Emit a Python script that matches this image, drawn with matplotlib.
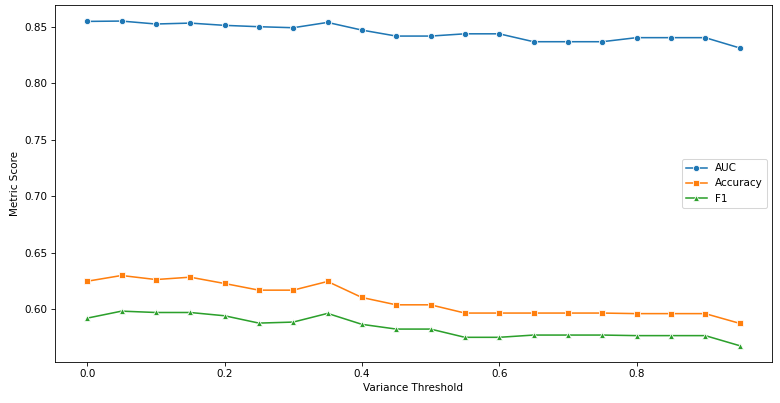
import numpy as np
import pandas as pd
import matplotlib
matplotlib.use("Agg")
import matplotlib.pyplot as plt
import seaborn as sns

# values
thresholds = [0.0, 0.05, 0.1, 0.15, 0.2, 0.25, 0.3, 0.35, 0.4, 0.45,
              0.5, 0.55, 0.6, 0.65, 0.7, 0.75, 0.8, 0.85, 0.9, 0.95]
auc = [0.8550, 0.8553, 0.8527, 0.8535, 0.8515, 0.8503, 0.8494, 0.8541, 0.8473, 0.8420,
       0.8420, 0.8440, 0.8440, 0.8370, 0.8370, 0.8370, 0.8406, 0.8406, 0.8406, 0.8315]
accuracy = [0.6247, 0.6298, 0.6262, 0.6283, 0.6227, 0.6168, 0.6168, 0.6245, 0.6103, 0.6038,
            0.6038, 0.5965, 0.5965, 0.5965, 0.5965, 0.5965, 0.5960, 0.5960, 0.5960, 0.5874]
f1 = [0.5920, 0.5982, 0.5970, 0.5970, 0.5941, 0.5876, 0.5885, 0.5962, 0.5865, 0.5823,
      0.5823, 0.5750, 0.5750, 0.5770, 0.5770, 0.5770, 0.5765, 0.5765, 0.5765, 0.5676]

fig, ax = plt.subplots(figsize=(780 / 75, 403 / 75), dpi=75)
fig.subplots_adjust(left=0.07, right=0.99, top=0.988, bottom=0.102)

sns.lineplot(x=thresholds, y=auc, marker='o', label='AUC', ax=ax)
sns.lineplot(x=thresholds, y=accuracy, marker='s', label='Accuracy', ax=ax)
sns.lineplot(x=thresholds, y=f1, marker='^', label='F1', ax=ax)

ax.set_xlabel('Variance Threshold')
ax.set_ylabel('Metric Score')
ax.legend(loc='center right')

fig.savefig('out.png', dpi=75)
